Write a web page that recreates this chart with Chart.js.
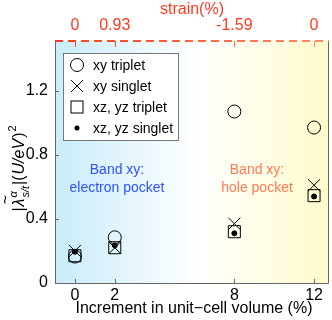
<!DOCTYPE html>
<html>
<head>
<meta charset="utf-8">
<script src="https://cdn.jsdelivr.net/npm/chart.js@4"></script>
<style>
  html, body { margin: 0; padding: 0; background: #fff; }
  #wrap { width: 332px; height: 320px; }
</style>
</head>
<body>
<div id="wrap"><canvas id="grafico"></canvas></div>
<script>
const volume = [0, 2, 8, 12];
const strainLabels = ["0", "0.93", "-1.59", "0"];
const xyTriplet = [0.165, 0.285, 1.07, 0.97];
const xySinglet = [0.2, 0.22, 0.37, 0.61];
const xzTriplet = [0.17, 0.22, 0.32, 0.545];
const xzSinglet = [0.195, 0.235, 0.31, 0.54];
const yTicks = [0, 0.4, 0.8, 1.2];

const FONT = "'Liberation Sans', Arial, sans-serif";
const pts = (arr) => arr.map((v, i) => ({ x: volume[i], y: v }));

const decor = {
  id: "decor",
  beforeDatasetsDraw(chart) {
    const { ctx, chartArea: a } = chart;
    const g = ctx.createLinearGradient(a.left, 0, a.right, 0);
    g.addColorStop(0, "#c9ecfb");
    g.addColorStop(0.52, "#ffffff");
    g.addColorStop(1, "#fffbcc");
    ctx.save();
    ctx.fillStyle = g;
    ctx.fillRect(a.left, a.top, a.right - a.left, a.bottom - a.top);

    // texts inside plot
    ctx.font = "14px " + FONT;
    ctx.textAlign = "center";
    ctx.textBaseline = "middle";
    ctx.fillStyle = "#2f52ff";
    ctx.fillText("Band xy:", 117, 170);
    ctx.fillText("electron pocket", 117, 188);
    ctx.fillStyle = "#ff7a55";
    ctx.fillText("Band xy:", 257, 170);
    ctx.fillText("hole pocket", 257, 188);
    ctx.restore();
  },
  afterDraw(chart) {
    const { ctx, chartArea: a, scales } = chart;
    ctx.save();
    // frame
    ctx.strokeStyle = "#666";
    ctx.lineWidth = 1;
    ctx.beginPath();
    ctx.moveTo(a.left + 0.5, a.top);
    ctx.lineTo(a.left + 0.5, a.bottom + 0.5);
    ctx.lineTo(a.right - 0.5, a.bottom + 0.5);
    ctx.lineTo(a.right - 0.5, a.top);
    ctx.stroke();
    // inward ticks
    ctx.beginPath();
    volume.forEach((v) => {
      const x = Math.round(scales.x.getPixelForValue(v)) + 0.5;
      ctx.moveTo(x, a.bottom);
      ctx.lineTo(x, a.bottom - 4);
    });
    yTicks.forEach((v) => {
      const y = Math.round(scales.y.getPixelForValue(v)) + 0.5;
      ctx.moveTo(a.left, y);
      ctx.lineTo(a.left + 4, y);
    });
    ctx.stroke();
    // top dashed axis
    const g = ctx.createLinearGradient(a.left, 0, a.right, 0);
    g.addColorStop(0, "#ff3a1e");
    g.addColorStop(1, "#ff9060");
    ctx.strokeStyle = g;
    ctx.lineWidth = 2;
    ctx.setLineDash([8, 5]);
    ctx.beginPath();
    ctx.moveTo(a.left, a.top);
    ctx.lineTo(a.right, a.top);
    ctx.stroke();
    ctx.setLineDash([]);
    ctx.lineWidth = 1;
    ctx.beginPath();
    volume.forEach((v) => {
      const x = Math.round(scales.x.getPixelForValue(v)) + 0.5;
      ctx.moveTo(x, a.top);
      ctx.lineTo(x, a.top + 6);
    });
    ctx.stroke();

    // legend
    const lx = 63, ly = 53, lw = 115, lh = 87;
    ctx.fillStyle = "#fff";
    ctx.fillRect(lx, ly, lw, lh);
    ctx.strokeStyle = "#777";
    ctx.strokeRect(lx + 0.5, ly + 0.5, lw, lh);
    const rows = ["xy triplet", "xy singlet", "xz, yz triplet", "xz, yz singlet"];
    ctx.strokeStyle = "#000";
    ctx.fillStyle = "#000";
    rows.forEach((t, i) => {
      const cy = 65 + i * 21, cx = 77;
      ctx.beginPath();
      if (i === 0) { ctx.arc(cx, cy, 6.5, 0, Math.PI * 2); ctx.stroke(); }
      if (i === 1) { ctx.moveTo(cx - 6, cy - 6); ctx.lineTo(cx + 6, cy + 6); ctx.moveTo(cx + 6, cy - 6); ctx.lineTo(cx - 6, cy + 6); ctx.stroke(); }
      if (i === 2) { ctx.strokeRect(cx - 6, cy - 6, 12, 12); }
      if (i === 3) { ctx.arc(cx, cy, 2.5, 0, Math.PI * 2); ctx.fill(); }
      ctx.font = "14px " + FONT;
      ctx.textAlign = "left";
      ctx.textBaseline = "middle";
      ctx.fillText(t, 93, cy + 1);
    });

    // titles
    ctx.fillStyle = "#ff3a1e";
    ctx.font = "16px " + FONT;
    ctx.textAlign = "center";
    ctx.textBaseline = "middle";
    ctx.fillText("strain(%)", 192, 10);
    ctx.fillStyle = "#000";
    ctx.fillText("Increment in unit\u2212cell volume (%)", 194, 309);

    // y title
    ctx.translate(19, 168);
    ctx.rotate(-Math.PI / 2);
    const big = "16px " + FONT, bigI = "italic 16px " + FONT, small = "italic 11px " + FONT, smallR = "11px " + FONT;
    const parts = [
      { t: "|", f: big },
      { t: "\u03bb", f: bigI, tilde: true },
      { t: "\u03b1", f: small, dy: -7, stack: "s/t" },
      { t: "|(", f: big },
      { t: "U/eV", f: bigI },
      { t: ")", f: big },
      { t: "2", f: smallR, dy: -8 }
    ];
    let total = 0;
    parts.forEach((p) => {
      ctx.font = p.f;
      p.w = ctx.measureText(p.t).width;
      if (p.stack) p.w = Math.max(p.w, ctx.measureText(p.stack).width);
      total += p.w + 1;
    });
    let x = -total / 2;
    ctx.textAlign = "left";
    ctx.textBaseline = "alphabetic";
    parts.forEach((p) => {
      ctx.font = p.f;
      ctx.fillText(p.t, x, 5 + (p.dy || 0));
      if (p.stack) ctx.fillText(p.stack, x, 10);
      if (p.tilde) ctx.fillText("~", x + 2, -8);
      x += p.w + 1;
    });
    ctx.restore();
  }
};

const mk = (label, data, style, radius, fill) => ({
  label, data: pts(data),
  pointStyle: style, pointRadius: radius, pointHoverRadius: radius,
  borderColor: "#000", backgroundColor: fill ? "#000" : "rgba(0,0,0,0)",
  borderWidth: 1, showLine: false
});

new Chart(document.getElementById("grafico"), {
  type: "scatter",
  data: {
    datasets: [
      mk("xy triplet", xyTriplet, "circle", 6.5, false),
      mk("xy singlet", xySinglet, "crossRot", 8.5, false),
      mk("xz, yz triplet", xzTriplet, "rect", 8.5, false),
      mk("xz, yz singlet", xzSinglet, "circle", 2.5, true)
    ]
  },
  options: {
    responsive: true,
    maintainAspectRatio: false,
    animation: false,
    layout: { autoPadding: false, padding: { left: 0, right: 3, top: 0, bottom: 0 } },
    plugins: { legend: { display: false }, tooltip: { enabled: false } },
    scales: {
      x: {
        type: "linear", position: "bottom", min: -1, max: 12.75,
        grid: { display: false, drawTicks: false }, border: { display: false },
        afterBuildTicks: (s) => { s.ticks = volume.map((v) => ({ value: v })); },
        afterFit: (s) => { s.height = 37; },
        ticks: { color: "#000", font: { size: 16, family: FONT }, padding: 3, maxRotation: 0, autoSkip: false }
      },
      x2: {
        type: "linear", position: "top", min: -1, max: 12.75,
        grid: { display: false, drawTicks: false }, border: { display: false },
        afterBuildTicks: (s) => { s.ticks = volume.map((v) => ({ value: v })); },
        afterFit: (s) => { s.height = 41; },
        ticks: {
          color: "#ff3a1e", font: { size: 16, family: FONT }, padding: 6, maxRotation: 0, autoSkip: false,
          callback: (v) => strainLabels[volume.indexOf(v)]
        }
      },
      y: {
        min: 0, max: 1.51,
        grid: { display: false, drawTicks: false }, border: { display: false },
        afterBuildTicks: (s) => { s.ticks = yTicks.map((v) => ({ value: v })); },
        afterFit: (s) => { s.width = 55; },
        ticks: { color: "#000", font: { size: 16, family: FONT }, padding: 7, callback: (v) => v === 0 ? "0" : v.toFixed(1) }
      }
    }
  },
  plugins: [decor]
});
</script>
</body>
</html>
